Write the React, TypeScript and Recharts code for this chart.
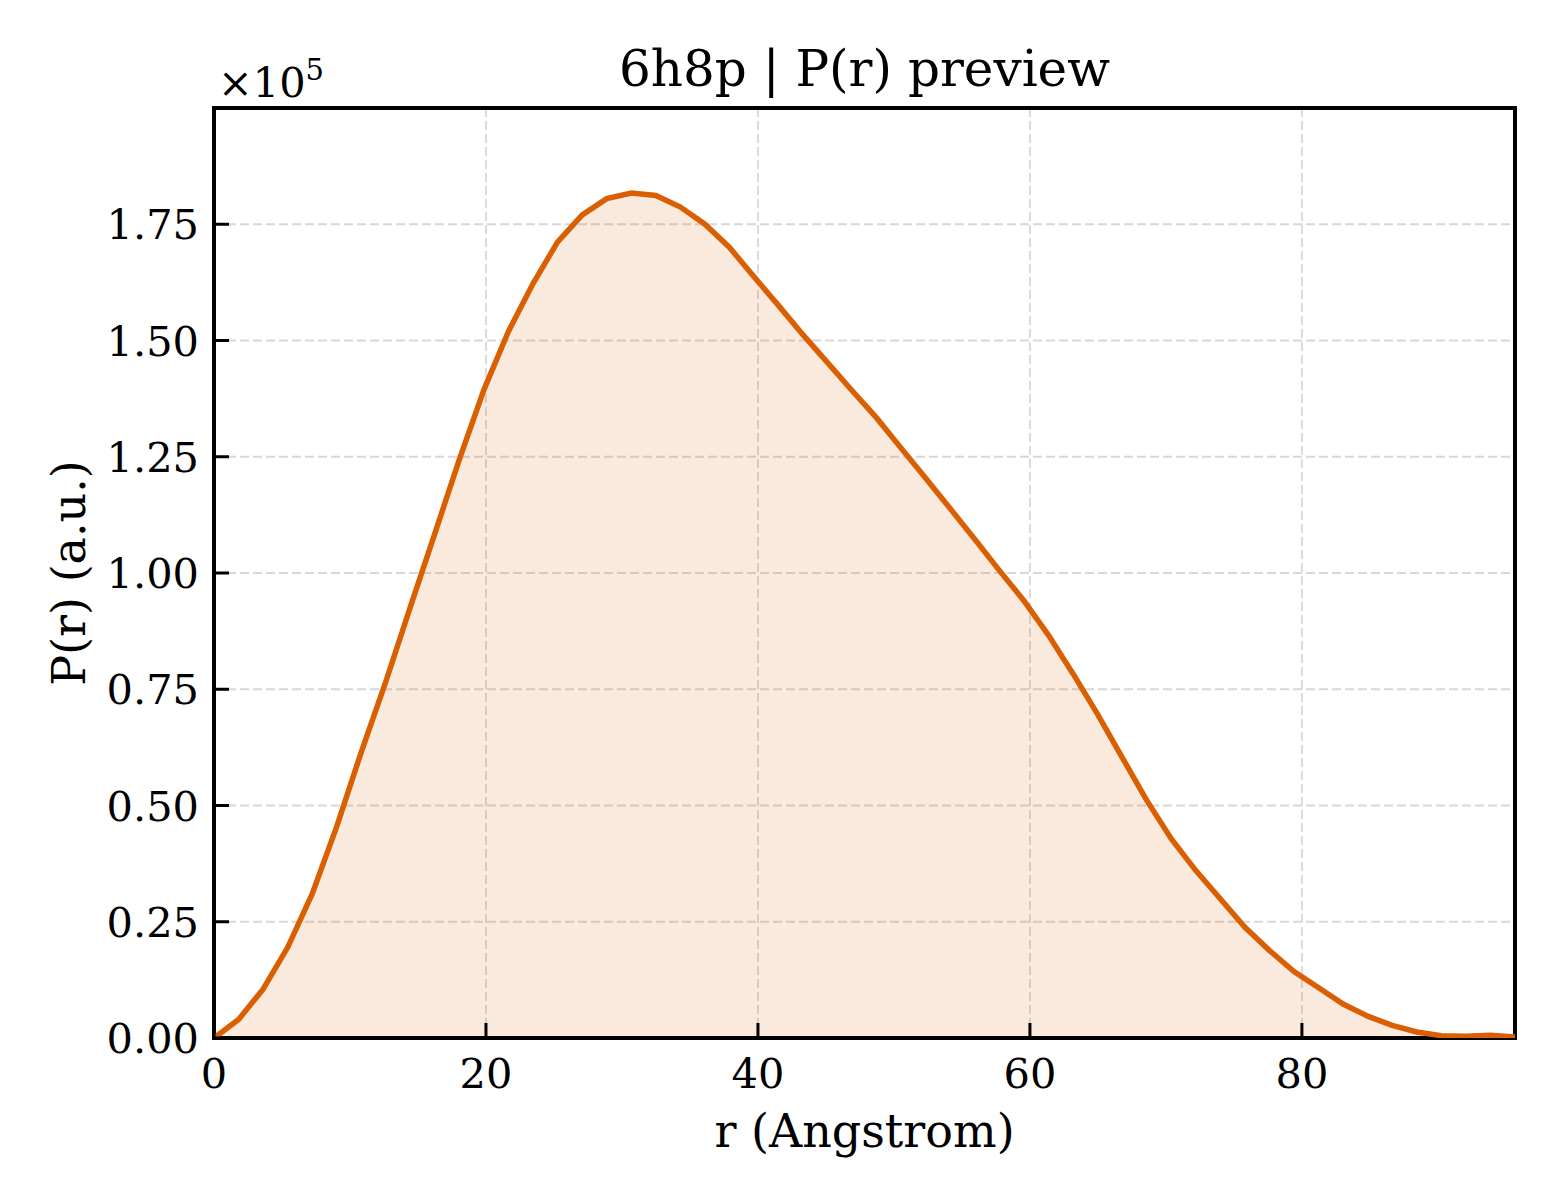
import React from 'react';
import { ComposedChart, Area, Line, XAxis, YAxis, CartesianGrid, ReferenceArea } from 'recharts';

// r grid (Angstrom)
const R_VALUES = [
  0, 1.81, 3.61, 5.42, 7.22, 9.03, 10.83, 12.64, 14.44, 16.25,
  18.05, 19.86, 21.66, 23.47, 25.27, 27.08, 28.88, 30.69, 32.49, 34.3,
  36.1, 37.91, 39.71, 41.52, 43.32, 45.13, 46.93, 48.74, 50.54, 52.35,
  54.15, 55.96, 57.76, 59.57, 61.37, 63.18, 64.98, 66.79, 68.59, 70.4,
  72.2, 74.01, 75.81, 77.62, 79.42, 81.23, 83.03, 84.84, 86.64, 88.45,
  90.25, 92.06, 93.86, 95.67,
];

// P(r), arbitrary units
const P_VALUES = [
  0, 4000, 10500, 19500, 31000, 45500, 61500, 76700, 92700, 108600,
  124500, 139500, 152000, 162300, 171200, 177000, 180500, 181700, 181200, 178700,
  175000, 170000, 163700, 157500, 151200, 145200, 139200, 133300, 126800, 120300,
  113800, 107200, 100500, 94000, 86600, 78300, 69600, 60300, 51100, 42800,
  36000, 29900, 23800, 18800, 14300, 10800, 7300, 4700, 2700, 1300,
  500, 400, 600, 200,
];

const X_TICKS = [0, 20, 40, 60, 80];
const Y_TICKS = [0, 25000, 50000, 75000, 100000, 125000, 150000, 175000];
const X_MAX = 95.67;
const Y_MAX = 200000;

const data = R_VALUES.map((r, i) => ({ r, p: P_VALUES[i] }));

const W = 1560;
const H = 1200;
const PLOT_LEFT = 214;
const PLOT_RIGHT = 1515;
const PLOT_TOP = 108;
const PLOT_BOTTOM = 1038;
const Y_AXIS_W = 120;
const X_AXIS_H = 80;
const FONT = '"DejaVu Serif", serif';
const TICK_FONT = 41.5;
const TICK_LEN = 15;
const LINE_COLOR = '#d95f02';

const XTick = (props: any) => {
  const { x, payload } = props;
  return (
    <g>
      <line x1={x} x2={x} y1={PLOT_BOTTOM} y2={PLOT_BOTTOM - TICK_LEN} stroke="#000" strokeWidth={3} />
      <text x={x} y={PLOT_BOTTOM + 50} textAnchor="middle" fontSize={TICK_FONT} fontFamily={FONT} fill="#000">
        {payload.value}
      </text>
    </g>
  );
};

const YTick = (props: any) => {
  const { y, payload } = props;
  return (
    <g>
      <line x1={PLOT_LEFT} x2={PLOT_LEFT + TICK_LEN} y1={y} y2={y} stroke="#000" strokeWidth={3} />
      <text x={PLOT_LEFT - 15} y={y + 15} textAnchor="end" fontSize={TICK_FONT} fontFamily={FONT} fill="#000">
        {(payload.value / 1e5).toFixed(2)}
      </text>
    </g>
  );
};

export default function App() {
  return (
    <div style={{ position: 'absolute', left: 0, top: 0, width: W, height: H, background: '#fff' }}>
      <ComposedChart
        width={W}
        height={H}
        data={data}
        margin={{
          top: PLOT_TOP,
          right: W - PLOT_RIGHT,
          left: PLOT_LEFT - Y_AXIS_W,
          bottom: H - PLOT_BOTTOM - X_AXIS_H,
        }}
      >
        <CartesianGrid strokeDasharray="9 4" stroke="#d8d8d8" strokeWidth={1.8} />
        <XAxis
          dataKey="r"
          type="number"
          domain={[0, X_MAX]}
          ticks={X_TICKS}
          height={X_AXIS_H}
          tick={XTick}
          tickLine={false}
          axisLine={false}
          allowDataOverflow
        />
        <YAxis
          type="number"
          domain={[0, Y_MAX]}
          ticks={Y_TICKS}
          width={Y_AXIS_W}
          tick={YTick}
          tickLine={false}
          axisLine={false}
          allowDataOverflow
        />
        <Area
          type="linear"
          dataKey="p"
          stroke="none"
          fill={LINE_COLOR}
          fillOpacity={0.13}
          dot={false}
          activeDot={false}
          isAnimationActive={false}
        />
        <Line
          type="linear"
          dataKey="p"
          stroke={LINE_COLOR}
          strokeWidth={5.5}
          dot={false}
          activeDot={false}
          isAnimationActive={false}
        />
        <ReferenceArea
          x1={0}
          x2={X_MAX}
          y1={0}
          y2={Y_MAX}
          fill="none"
          stroke="#000"
          strokeWidth={4}
          ifOverflow="visible"
        />
      </ComposedChart>
      <svg
        width={W}
        height={H}
        style={{ position: 'absolute', left: 0, top: 0, pointerEvents: 'none' }}
        fontFamily={FONT}
      >
        <text x={(PLOT_LEFT + PLOT_RIGHT) / 2} y={86} textAnchor="middle" fontSize={50} fill="#000">
          6h8p | P(r) preview
        </text>
        <text x={218} y={97} fontSize={TICK_FONT} fill="#000">
          ×10<tspan fontSize={29} dy={-17}>5</tspan>
        </text>
        <text x={(PLOT_LEFT + PLOT_RIGHT) / 2} y={1147} textAnchor="middle" fontSize={46} fill="#000">
          r (Angstrom)
        </text>
        <text
          transform={`translate(85, ${(PLOT_TOP + PLOT_BOTTOM) / 2}) rotate(-90)`}
          textAnchor="middle"
          fontSize={46}
          fill="#000"
        >
          P(r) (a.u.)
        </text>
      </svg>
    </div>
  );
}
